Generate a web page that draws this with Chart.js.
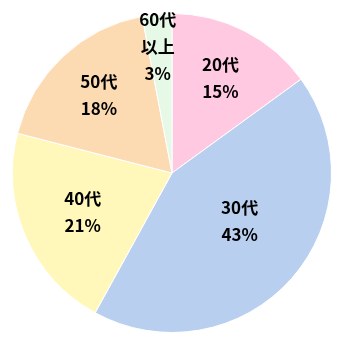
<!DOCTYPE html>
<html>
<head>
<meta charset="utf-8">
<script src="https://cdn.jsdelivr.net/npm/chart.js@4"></script>
<style>
  html, body { margin: 0; padding: 0; background: #fff; }
  #wrap { width: 344px; height: 346px; position: relative; }
</style>
</head>
<body>
<div id="wrap"><canvas id="age-pie"></canvas></div>
<script>
// age groups, one line of text per entry
const labels = [['20代'], ['30代'], ['40代'], ['50代'], ['60代', '以上']];
const shares = [15, 43, 21, 18, 3];
const colors = ['#FFC9E1', '#B9CFEF', '#FFF8BA', '#FCDBB3', '#E5F9E6'];

// draws the name + percent inside each slice
const sliceLabels = {
  id: 'sliceLabels',
  afterDatasetsDraw(chart, args, opts) {
    const ctx = chart.ctx;
    const arcs = chart.getDatasetMeta(0).data;
    ctx.save();
    ctx.font = opts.font;
    ctx.fillStyle = opts.color;
    ctx.textAlign = 'center';
    ctx.textBaseline = 'middle';
    arcs.forEach(function(arc, i) {
      const p = arc.getProps(['x', 'y', 'startAngle', 'endAngle', 'outerRadius'], true);
      const a = (p.startAngle + p.endAngle) / 2 + opts.turn[i] * Math.PI / 180;
      const r = p.outerRadius * opts.radius[i];
      const x = p.x + Math.cos(a) * r;
      const y = p.y + Math.sin(a) * r;
      const lines = labels[i].concat([shares[i] + '%']);
      const top = y - (lines.length - 1) * opts.lineHeight / 2;
      lines.forEach(function(t, j) {
        ctx.fillText(t, x, top + j * opts.lineHeight);
      });
    });
    ctx.restore();
  }
};

new Chart(document.getElementById('age-pie'), {
  type: 'pie',
  data: {
    labels: labels.map(function(l) { return l.join(''); }),
    datasets: [{
      data: shares,
      backgroundColor: colors,
      borderColor: '#fff',
      borderWidth: 1
    }]
  },
  options: {
    responsive: true,
    maintainAspectRatio: false,
    animation: false,
    layout: { padding: { left: 12, right: 12, top: 13, bottom: 13 } },
    plugins: {
      legend: { display: false },
      tooltip: { enabled: false },
      sliceLabels: {
        font: 'bold 17px "Noto Sans CJK JP"',
        color: '#000',
        lineHeight: 27,
        radius: [0.67, 0.52, 0.61, 0.67, 0.8],
        turn: [0, -6, 0, 0, -1]
      }
    }
  },
  plugins: [sliceLabels]
});
</script>
</body>
</html>
